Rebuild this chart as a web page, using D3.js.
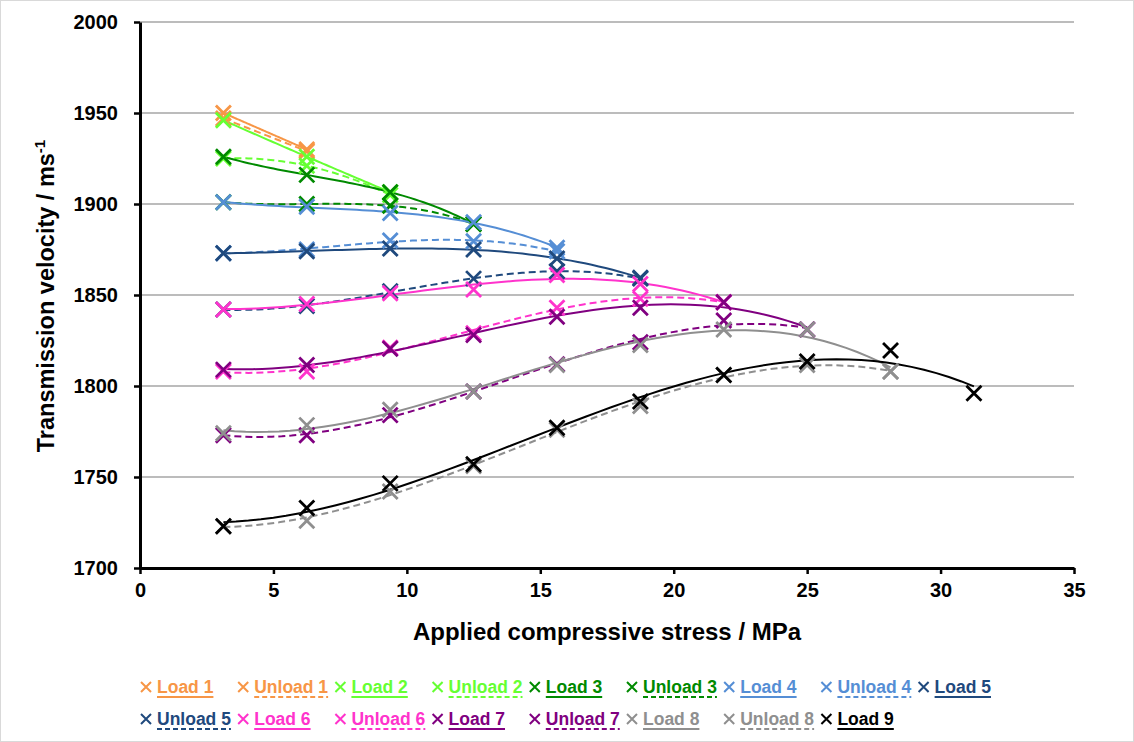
<!DOCTYPE html>
<html>
<head>
<meta charset="utf-8">
<script src="https://cdn.jsdelivr.net/npm/d3@7"></script>
<style>
  body { margin: 0; background: #fff; }
  svg { display: block; font-family: "Liberation Sans", Arial, sans-serif; font-weight: bold; }
</style>
</head>
<body>
<div id="chart"></div>
<script>
// applied stress steps (MPa)
var stress = [3.125, 6.25, 9.375, 12.5, 15.625, 18.75, 21.875, 25, 28.125, 31.25];

// velocities (m/s), listed from lowest stress upward
var load1 = [1950, 1930];
var unload1 = [1947, 1929];
var load2 = [1946, 1926, 1906.5];
var unload2 = [1925, 1921, 1905];
var load3 = [1926, 1916, 1906.5, 1889];
var unload3 = [1901, 1900, 1899, 1889];
var load4 = [1901, 1898.5, 1895, 1890, 1876];
var unload4 = [1873, 1875, 1880, 1879.5, 1874];
var load5 = [1873, 1874, 1875.5, 1875, 1870, 1859.5];
var unload5 = [1842, 1844, 1852, 1859, 1863, 1859];
var load6 = [1842, 1845, 1851, 1853, 1861, 1856, 1846];
var unload6 = [1808, 1808, 1821, 1829, 1843, 1848, 1846];
var load7 = [1809, 1811.5, 1820.5, 1828, 1838, 1843, 1846, 1831];
var unload7 = [1773, 1773, 1784, 1797, 1812, 1824, 1836, 1831];
var load8 = [1774, 1778.5, 1787, 1797, 1811.5, 1822.5, 1831, 1831, 1808];
var unload8 = [1723, 1726, 1742, 1756, 1776, 1789, 1806, 1811.5, 1808];
var load9 = [1723, 1733, 1746.5, 1757, 1777, 1791.5, 1806, 1813.5, 1819.5, 1796];

var xTicks = [0, 5, 10, 15, 20, 25, 30, 35];
var yTicks = [1700, 1750, 1800, 1850, 1900, 1950, 2000];

var colors = ['#F79646', '#66FF33', '#008A00', '#558ED5', '#1F497D', '#FF33CC', '#800080', '#8F8F8F', '#000000'];

var series = [
  { name: 'Load 1', values: load1, color: colors[0], dashed: false },
  { name: 'Unload 1', values: unload1, color: colors[0], dashed: true },
  { name: 'Load 2', values: load2, color: colors[1], dashed: false },
  { name: 'Unload 2', values: unload2, color: colors[1], dashed: true },
  { name: 'Load 3', values: load3, color: colors[2], dashed: false },
  { name: 'Unload 3', values: unload3, color: colors[2], dashed: true },
  { name: 'Load 4', values: load4, color: colors[3], dashed: false },
  { name: 'Unload 4', values: unload4, color: colors[3], dashed: true },
  { name: 'Load 5', values: load5, color: colors[4], dashed: false },
  { name: 'Unload 5', values: unload5, color: colors[4], dashed: true },
  { name: 'Load 6', values: load6, color: colors[5], dashed: false },
  { name: 'Unload 6', values: unload6, color: colors[5], dashed: true },
  { name: 'Load 7', values: load7, color: colors[6], dashed: false },
  { name: 'Unload 7', values: unload7, color: colors[6], dashed: true },
  { name: 'Load 8', values: load8, color: colors[7], dashed: false },
  { name: 'Unload 8', values: unload8, color: colors[7], dashed: true },
  { name: 'Load 9', values: load9, color: colors[8], dashed: false }
];

var width = 1134, height = 742;
var margin = { left: 140, right: 60, top: 22, bottom: 174 };

var svg = d3.select('#chart').append('svg')
  .attr('width', width)
  .attr('height', height);

svg.append('rect')
  .attr('x', 0.5).attr('y', 0.5)
  .attr('width', width - 1).attr('height', height - 1)
  .attr('fill', '#fff')
  .attr('stroke', '#D9D9D9');

var x = d3.scaleLinear().domain([0, 35]).range([margin.left, width - margin.right]);
var y = d3.scaleLinear().domain([1700, 2000]).range([height - margin.bottom, margin.top]);

// gridlines
svg.append('g')
  .selectAll('line')
  .data(yTicks.slice(1))
  .enter().append('line')
  .attr('x1', x(0)).attr('x2', x(35))
  .attr('y1', function(d){ return y(d); })
  .attr('y2', function(d){ return y(d); })
  .attr('stroke', '#A6A6A6')
  .attr('stroke-width', 1.5);

// polynomial trend line (least squares), like the spreadsheet trendlines
function polyfit(xs, ys, deg) {
  var n = deg + 1, A = [], b = [], i, j, k;
  for (i = 0; i < n; i++) { A.push(new Array(n).fill(0)); b.push(0); }
  xs.forEach(function(xv, idx){
    var t = (xv - 15) / 10;
    for (i = 0; i < n; i++) {
      for (j = 0; j < n; j++) A[i][j] += Math.pow(t, i + j);
      b[i] += ys[idx] * Math.pow(t, i);
    }
  });
  for (i = 0; i < n; i++) {
    var p = i;
    for (k = i + 1; k < n; k++) if (Math.abs(A[k][i]) > Math.abs(A[p][i])) p = k;
    var tmp = A[i]; A[i] = A[p]; A[p] = tmp;
    var tb = b[i]; b[i] = b[p]; b[p] = tb;
    for (k = i + 1; k < n; k++) {
      var f = A[k][i] / A[i][i];
      for (j = i; j < n; j++) A[k][j] -= f * A[i][j];
      b[k] -= f * b[i];
    }
  }
  var c = new Array(n).fill(0);
  for (i = n - 1; i >= 0; i--) {
    var s = b[i];
    for (j = i + 1; j < n; j++) s -= A[i][j] * c[j];
    c[i] = s / A[i][i];
  }
  return function(xv){
    var t = (xv - 15) / 10, v = 0;
    for (var q = 0; q < n; q++) v += c[q] * Math.pow(t, q);
    return v;
  };
}

var line = d3.line()
  .x(function(d){ return x(d[0]); })
  .y(function(d){ return y(d[1]); });

var lines = svg.append('g');
series.forEach(function(s){
  var xs = stress.slice(0, s.values.length);
  var fit = polyfit(xs, s.values, Math.min(3, xs.length - 1));
  var x0 = xs[0], x1 = xs[xs.length - 1];
  var pts = d3.range(0, 61).map(function(i){
    var xv = x0 + (x1 - x0) * i / 60;
    return [xv, fit(xv)];
  });
  lines.append('path')
    .attr('d', line(pts))
    .attr('fill', 'none')
    .attr('stroke', s.color)
    .attr('stroke-width', 2)
    .attr('stroke-dasharray', s.dashed ? '7,4' : null);
});

// markers
var cross = 'M-7.5,-7.5L7.5,7.5M-7.5,7.5L7.5,-7.5';
series.forEach(function(s){
  svg.append('g')
    .selectAll('path')
    .data(s.values)
    .enter().append('path')
    .attr('d', cross)
    .attr('transform', function(d, i){ return 'translate(' + x(stress[i]) + ',' + y(d) + ')'; })
    .attr('fill', 'none')
    .attr('stroke', s.color)
    .attr('stroke-width', 2.8);
});

// axes
var xAxis = svg.append('g')
  .attr('transform', 'translate(0,' + y(1700) + ')')
  .call(d3.axisBottom(x).tickValues(xTicks).tickSize(6).tickPadding(9).tickSizeOuter(0));
var yAxis = svg.append('g')
  .attr('transform', 'translate(' + x(0) + ',0)')
  .call(d3.axisLeft(y).tickValues(yTicks).tickFormat(d3.format('d')).tickSize(6).tickPadding(16).tickSizeOuter(0));

[xAxis, yAxis].forEach(function(a){
  a.select('.domain').attr('stroke', '#000').attr('stroke-width', 3);
  a.selectAll('.tick line').attr('stroke', '#000').attr('stroke-width', 2.5);
  a.selectAll('.tick text')
    .attr('fill', '#000')
    .style('font-size', '20px')
    .style('font-weight', 'bold')
    .style('font-family', '"Liberation Sans", Arial, sans-serif');
});

svg.append('text')
  .attr('x', 607).attr('y', 640)
  .attr('text-anchor', 'middle')
  .style('font-size', '24px')
  .text('Applied compressive stress / MPa');

var yTitle = svg.append('text')
  .attr('transform', 'translate(54,296) rotate(-90)')
  .attr('text-anchor', 'middle')
  .style('font-size', '23.5px');
yTitle.append('tspan').text('Transmission velocity / ms');
yTitle.append('tspan').attr('dy', -9).style('font-size', '15px').text('-1');

// legend: 9 entries per row
var legend = svg.append('g');
series.forEach(function(s, i){
  var row = Math.floor(i / 9), col = i % 9;
  var gx = 139 + col * 97.2, gy = 687 + row * 32;
  var g = legend.append('g').attr('transform', 'translate(' + gx + ',' + gy + ')');
  g.append('path')
    .attr('d', 'M-5,-5L5,5M-5,5L5,-5')
    .attr('transform', 'translate(7,0)')
    .attr('fill', 'none')
    .attr('stroke', s.color)
    .attr('stroke-width', 2);
  var t = g.append('text')
    .attr('x', 18).attr('y', 6)
    .attr('fill', s.color)
    .style('font-size', '17.5px')
    .text(s.name);
  var w = t.node().getComputedTextLength();
  g.append('line')
    .attr('x1', 18).attr('x2', 18 + w)
    .attr('y1', 10).attr('y2', 10)
    .attr('stroke', s.color)
    .attr('stroke-width', 2)
    .attr('stroke-dasharray', s.dashed ? '5,3' : null);
});
</script>
</body>
</html>
